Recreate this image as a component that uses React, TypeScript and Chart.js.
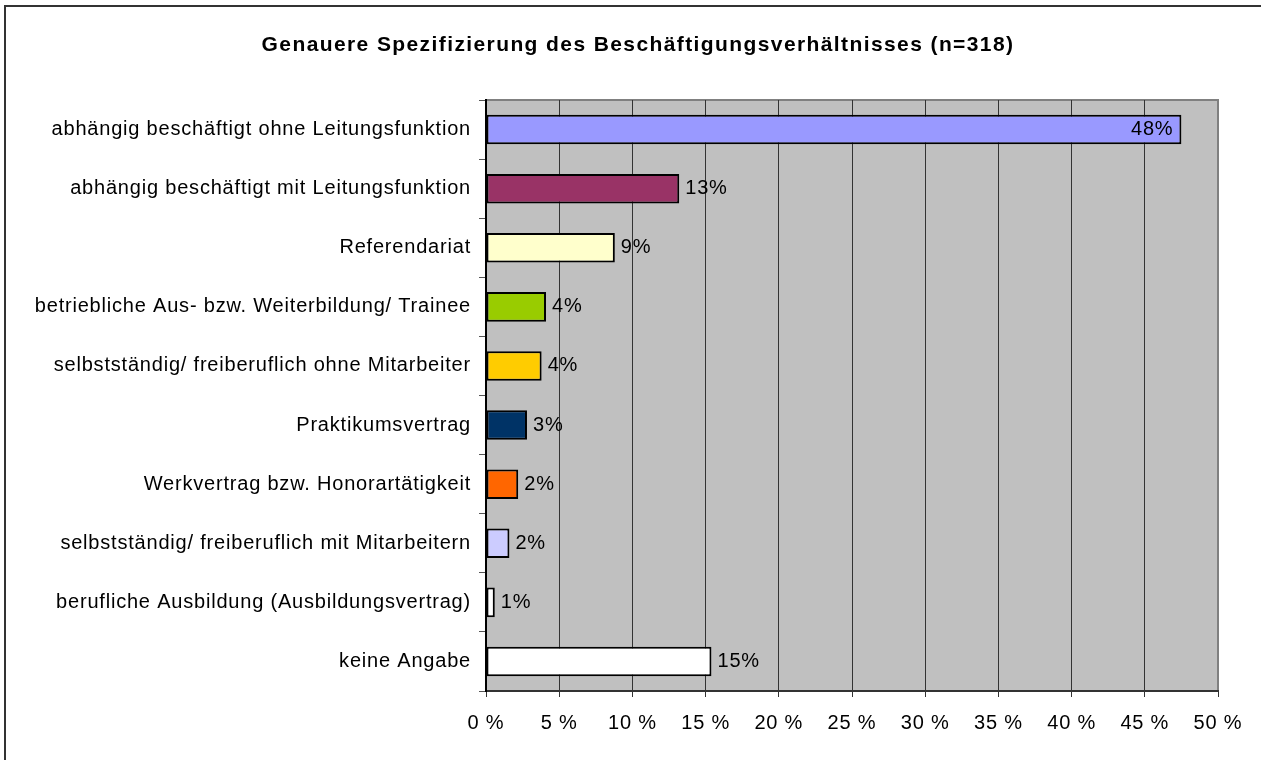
import React, { useEffect, useRef } from "react";
import { Chart, registerables } from "chart.js";

Chart.register(...registerables);

const TITLE = "Genauere Spezifizierung des Beschäftigungsverhältnisses (n=318)";

const categories = [
  "abhängig beschäftigt ohne Leitungsfunktion",
  "abhängig beschäftigt mit Leitungsfunktion",
  "Referendariat",
  "betriebliche Aus- bzw. Weiterbildung/ Trainee",
  "selbstständig/ freiberuflich ohne Mitarbeiter",
  "Praktikumsvertrag",
  "Werkvertrag bzw. Honorartätigkeit",
  "selbstständig/ freiberuflich mit Mitarbeitern",
  "berufliche Ausbildung (Ausbildungsvertrag)",
  "keine Angabe",
];

const values = [47.5, 13.2, 8.8, 4.1, 3.8, 2.8, 2.2, 1.6, 0.6, 15.4];

const barColors = [
  "#9999FF",
  "#993366",
  "#FFFFCC",
  "#99CC00",
  "#FFCC00",
  "#003366",
  "#FF6600",
  "#CCCCFF",
  "#FFFFFF",
  "#FFFFFF",
];

const X_MIN = 0;
const X_MAX = 50;
const X_STEP = 5;

const FONT = "'Liberation Sans', Arial, Helvetica, sans-serif";
const SPACING = "0.8px";
const TITLE_SPACING = "1.4px";

const spacingPlugin = {
  id: "spacing",
  beforeUpdate(chart: any) {
    chart.ctx.letterSpacing = SPACING;
  },
  beforeDraw(chart: any) {
    chart.ctx.letterSpacing = SPACING;
  },
};

const backgroundPlugin = {
  id: "bg",
  beforeDraw(chart: any) {
    const { ctx, chartArea, width, height } = chart;
    ctx.save();
    ctx.fillStyle = "#FFFFFF";
    ctx.fillRect(0, 0, width, height);
    ctx.fillStyle = "#C0C0C0";
    ctx.fillRect(chartArea.left, chartArea.top, chartArea.right - chartArea.left, chartArea.bottom - chartArea.top);
    ctx.strokeStyle = "#808080";
    ctx.lineWidth = 2;
    ctx.beginPath();
    ctx.moveTo(chartArea.left, chartArea.top);
    ctx.lineTo(chartArea.right, chartArea.top);
    ctx.lineTo(chartArea.right, chartArea.bottom);
    ctx.stroke();
    ctx.restore();
  },
  afterDraw(chart: any) {
    const { ctx } = chart;
    ctx.save();
    ctx.strokeStyle = "#333333";
    ctx.lineWidth = 2;
    ctx.strokeRect(5, 6, 1400, 900);
    // title
    ctx.letterSpacing = TITLE_SPACING;
    ctx.font = `bold 21px ${FONT}`;
    ctx.fillStyle = "#000000";
    ctx.textAlign = "center";
    ctx.textBaseline = "alphabetic";
    ctx.fillText(TITLE, 638, 51);
    ctx.restore();
  },
};

const labelPlugin = {
  id: "valueLabels",
  afterDatasetsDraw(chart: any) {
    const { ctx } = chart;
    const meta = chart.getDatasetMeta(0);
    ctx.save();
    ctx.font = `20px ${FONT}`;
    ctx.fillStyle = "#000000";
    ctx.textBaseline = "middle";
    meta.data.forEach((el: any, i: number) => {
      const v = values[i];
      const txt = Math.round(v) + "%";
      if (v > 40) {
        ctx.textAlign = "right";
        ctx.fillText(txt, el.x - 8, el.y);
      } else {
        ctx.textAlign = "left";
        ctx.fillText(txt, el.x + 6, el.y);
      }
    });
    ctx.restore();
  },
};

export default function App() {
  const ref = useRef<HTMLCanvasElement | null>(null);

  useEffect(() => {
    if (!ref.current) return;
    const chart = new Chart(ref.current, {
      type: "bar",
      data: {
        labels: categories,
        datasets: [
          {
            data: values,
            backgroundColor: barColors,
            borderColor: "#000000",
            borderWidth: 2,
            borderSkipped: false,
            barPercentage: 0.5,
            categoryPercentage: 1,
          },
        ],
      },
      options: {
        indexAxis: "y",
        animation: false,
        responsive: false,
        devicePixelRatio: 1,
        layout: { padding: { left: 0, right: 43, top: 100, bottom: 0 } },
        plugins: {
          legend: { display: false },
          tooltip: { enabled: false },
          title: { display: false },
        },
        scales: {
          x: {
            type: "linear",
            min: X_MIN,
            max: X_MAX,
            ticks: {
              stepSize: X_STEP,
              color: "#000000",
              font: { family: FONT, size: 20 },
              padding: 14,
              maxRotation: 0,
              callback: (v: any) => v + " %",
            },
            grid: {
              color: (c: any) => (c.tick && c.tick.value === X_MAX ? "#808080" : "#333333"),
              lineWidth: 1,
              tickLength: 6,
              tickColor: "#333333",
            },
            border: { color: "#333333", width: 2 },
            afterFit: (s: any) => {
              s.height = 69;
            },
          },
          y: {
            type: "category",
            offset: true,
            ticks: {
              color: "#000000",
              font: { family: FONT, size: 20 },
              padding: 8,
            },
            grid: {
              offset: true,
              drawOnChartArea: false,
              tickLength: 7,
              tickColor: "#555555",
            },
            border: { color: "#000000", width: 2 },
            afterFit: (s: any) => {
              s.width = 486;
            },
          },
        },
      },
      plugins: [spacingPlugin, backgroundPlugin, labelPlugin],
    });
    return () => chart.destroy();
  }, []);

  return (
    <div style={{ position: "absolute", left: 0, top: 0, width: 1261, height: 760 }}>
      <canvas ref={ref} width={1261} height={760} style={{ display: "block" }} />
    </div>
  );
}
